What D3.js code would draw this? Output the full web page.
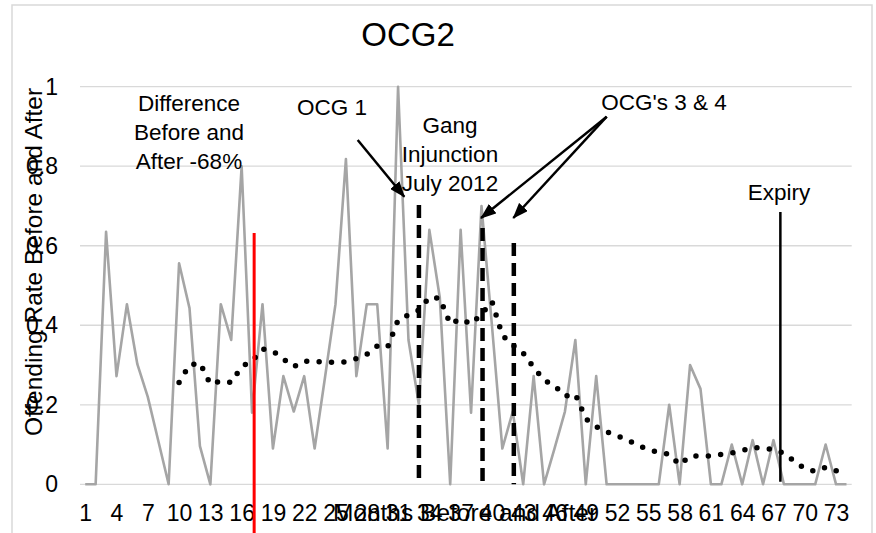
<!DOCTYPE html>
<html>
<head>
<meta charset="utf-8">
<script src="https://cdnjs.cloudflare.com/ajax/libs/d3/7.8.5/d3.min.js"></script>
<style>
  body { margin: 0; background: #fff; }
  svg { display: block; font-family: "Liberation Sans", Arial, sans-serif; }
</style>
</head>
<body>
<script>
// months 1..74 on the category axis
var months = d3.range(1, 75);

// offending rate per month (grey line)
var offendingRate = [
  0, 0, 0.635, 0.272, 0.453, 0.302, 0.22, 0.11, 0, 0.556,
  0.443, 0.096, 0, 0.453, 0.363, 0.8, 0.18, 0.453, 0.09, 0.272,
  0.183, 0.272, 0.09, 0.27, 0.453, 0.818, 0.272, 0.453, 0.453, 0.09,
  1.0, 0.363, 0.2, 0.64, 0.47, 0, 0.64, 0.18, 0.7, 0.4,
  0.09, 0.183, 0, 0.272, 0, 0.09, 0.183, 0.363, 0, 0.272,
  0, 0, 0, 0, 0, 0, 0.2, 0, 0.3, 0.24,
  0, 0, 0.1, 0, 0.111, 0, 0.111, 0, 0, 0,
  0, 0.1, 0, 0
];

// moving average trend (dotted), from month 10 on
var trendStart = 10;
var trendRate = [
  0.256, 0.30, 0.305, 0.252, 0.26, 0.256, 0.296, 0.31, 0.34, 0.335,
  0.315, 0.296, 0.31, 0.309, 0.307, 0.307, 0.308, 0.316, 0.327, 0.348,
  0.345, 0.413, 0.426, 0.438, 0.47, 0.468, 0.403, 0.416, 0.403, 0.428,
  0.46, 0.375, 0.35, 0.33, 0.294, 0.262, 0.248, 0.222, 0.227, 0.165,
  0.145, 0.132, 0.122, 0.112, 0.098, 0.088, 0.08, 0.076, 0.049, 0.071,
  0.071, 0.071, 0.075, 0.079, 0.085, 0.093, 0.09, 0.088, 0.078, 0.058,
  0.039, 0.033, 0.043, 0.034, 0.03
];

var yTicks = [0, 0.2, 0.4, 0.6, 0.8, 1];
var xTickEvery = 3;

// event markers, position in months
var redLineMonth = 17.2;
var injunctionMonth = 33;
var ocgMonths = [39.1, 42.1];
var expiryMonth = 67.66;

(function() {
  var W = 876, H = 533;
  var margin = {left: 80, right: 24.3, top: 86.7, bottom: 48.7};

  var svg = d3.select('body').append('svg')
    .attr('width', W)
    .attr('height', H);

  // outer chart border
  svg.append('rect')
    .attr('x', 12).attr('y', 5)
    .attr('width', 860).attr('height', 560)
    .attr('fill', 'none')
    .attr('stroke', '#d9d9d9')
    .attr('stroke-width', 1.5);

  var x = d3.scalePoint()
    .domain(months)
    .range([margin.left, W - margin.right])
    .padding(0.5);
  var step = x.step();
  // fractional month -> px
  function xm(m) { return x(1) + (m - 1) * step; }

  var y = d3.scaleLinear()
    .domain([0, 1])
    .range([H - margin.bottom, margin.top]);

  // gridlines
  svg.append('g').selectAll('line')
    .data(yTicks)
    .enter().append('line')
      .attr('x1', margin.left).attr('x2', W - margin.right)
      .attr('y1', function(d) { return y(d); })
      .attr('y2', function(d) { return y(d); })
      .attr('stroke', '#d9d9d9')
      .attr('stroke-width', 1.3);

  // y axis labels
  var yAxis = svg.append('g')
    .attr('transform', 'translate(' + margin.left + ',0)')
    .call(d3.axisLeft(y).tickValues(yTicks).tickSize(0).tickPadding(22)
      .tickFormat(function(d) { return String(+d.toFixed(1)); }));
  yAxis.select('.domain').remove();
  yAxis.selectAll('text')
    .style('font-size', '23px')
    .style('font-family', '"Liberation Sans", Arial, sans-serif')
    .attr('fill', '#000');

  // x axis labels
  var xAxis = svg.append('g')
    .attr('transform', 'translate(0,' + y(0) + ')')
    .call(d3.axisBottom(x)
      .tickValues(months.filter(function(m) { return (m - 1) % xTickEvery == 0; }))
      .tickSize(0));
  xAxis.select('.domain').remove();
  xAxis.selectAll('text')
    .attr('y', 37).attr('dy', 0)
    .style('font-size', '23px')
    .style('font-family', '"Liberation Sans", Arial, sans-serif')
    .attr('fill', '#000');

  // axis titles
  svg.append('text')
    .attr('transform', 'translate(42,262) rotate(-90)')
    .attr('text-anchor', 'middle')
    .style('font-size', '24.5px')
    .text('Offending Rate Before and After');

  svg.append('text')
    .attr('x', 465).attr('y', 521)
    .attr('text-anchor', 'middle')
    .style('font-size', '24.5px')
    .text('Months Before and After');

  // title
  svg.append('text')
    .attr('x', 408).attr('y', 46)
    .attr('text-anchor', 'middle')
    .style('font-size', '33px')
    .text('OCG2');

  // grey offending rate line
  var line = d3.line()
    .x(function(d, i) { return x(months[i]); })
    .y(function(d) { return y(d); });

  svg.append('path')
    .datum(offendingRate)
    .attr('d', line)
    .attr('fill', 'none')
    .attr('stroke', '#a5a5a5')
    .attr('stroke-width', 2.6)
    .attr('stroke-linejoin', 'round');

  // dotted moving average
  var trendLine = d3.line()
    .x(function(d, i) { return x(trendStart + i); })
    .y(function(d) { return y(d); });

  svg.append('path')
    .datum(trendRate)
    .attr('d', trendLine)
    .attr('fill', 'none')
    .attr('stroke', '#000')
    .attr('stroke-width', 5.5)
    .attr('stroke-linecap', 'round')
    .attr('stroke-dasharray', '0 12.4');

  // red before/after line
  svg.append('line')
    .attr('x1', xm(redLineMonth)).attr('x2', xm(redLineMonth))
    .attr('y1', 233).attr('y2', H + 5)
    .attr('stroke', '#ff0000')
    .attr('stroke-width', 3);

  // dashed OCG / injunction lines
  var dashed = [
    {m: injunctionMonth, top: 205},
    {m: ocgMonths[0], top: 228},
    {m: ocgMonths[1], top: 243}
  ];
  svg.append('g').selectAll('line')
    .data(dashed)
    .enter().append('line')
      .attr('x1', function(d) { return xm(d.m); })
      .attr('x2', function(d) { return xm(d.m); })
      .attr('y1', function(d) { return d.top; })
      .attr('y2', y(0))
      .attr('stroke', '#000')
      .attr('stroke-width', 4.5)
      .attr('stroke-dasharray', '13 7');

  // expiry line
  svg.append('line')
    .attr('x1', xm(expiryMonth)).attr('x2', xm(expiryMonth))
    .attr('y1', 212).attr('y2', y(0) - 2.5)
    .attr('stroke', '#000')
    .attr('stroke-width', 2.5);

  // arrows
  svg.append('defs').append('marker')
    .attr('id', 'arrow')
    .attr('markerUnits', 'userSpaceOnUse')
    .attr('viewBox', '0 0 16 12')
    .attr('refX', 15).attr('refY', 6)
    .attr('markerWidth', 16).attr('markerHeight', 12)
    .attr('orient', 'auto')
    .append('path')
      .attr('d', 'M0,0 L16,6 L0,12 Z')
      .attr('fill', '#000');

  var arrows = [
    {x1: 357.7, y1: 140, x2: 404.3, y2: 196.7},
    {x1: 606.7, y1: 116.7, x2: 481, y2: 218},
    {x1: 606.7, y1: 116.7, x2: 513.3, y2: 218}
  ];
  svg.append('g').selectAll('line')
    .data(arrows)
    .enter().append('line')
      .attr('x1', function(d) { return d.x1; })
      .attr('y1', function(d) { return d.y1; })
      .attr('x2', function(d) { return d.x2; })
      .attr('y2', function(d) { return d.y2; })
      .attr('stroke', '#000')
      .attr('stroke-width', 2.5)
      .attr('marker-end', 'url(#arrow)');

  // annotation text
  var notes = [
    {x: 189, y: 111, lines: ['Difference', 'Before and', 'After -68%']},
    {x: 332, y: 115, lines: ['OCG 1']},
    {x: 450, y: 132.5, lines: ['Gang', 'Injunction', 'July 2012']},
    {x: 664, y: 110, lines: ["OCG's 3 & 4"]},
    {x: 779, y: 200, lines: ['Expiry']}
  ];
  notes.forEach(function(n) {
    var t = svg.append('text')
      .attr('text-anchor', 'middle')
      .style('font-size', '22.5px');
    n.lines.forEach(function(s, i) {
      t.append('tspan')
        .attr('x', n.x)
        .attr('y', n.y + i * 29)
        .text(s);
    });
  });
})();
</script>
</body>
</html>
